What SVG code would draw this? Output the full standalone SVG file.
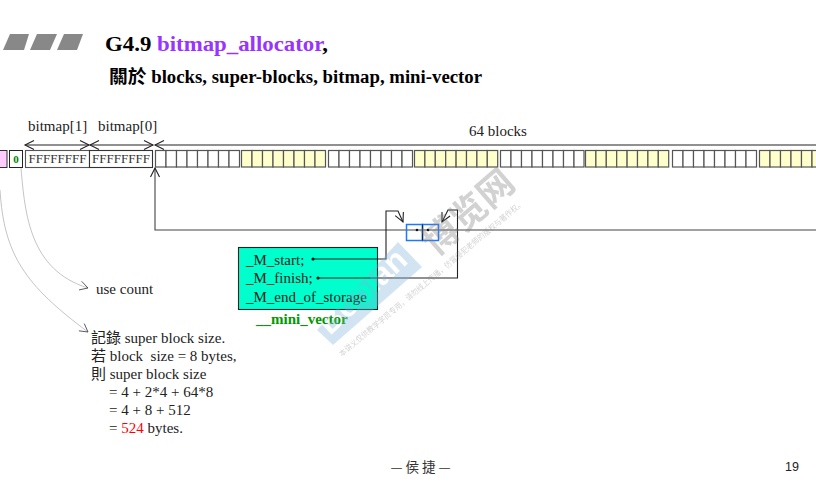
<svg xmlns="http://www.w3.org/2000/svg" width="816" height="493" viewBox="0 0 816 493">
<defs>
<marker id="o" viewBox="-10 -6 12 12" markerWidth="12" markerHeight="12" markerUnits="userSpaceOnUse" refX="0" refY="0" orient="auto-start-reverse"><path d="M-9 -4.500L0 0L-9 4.500" fill="none" stroke="#222" stroke-width="1.100"/></marker>
<marker id="t" viewBox="-10 -6 12 12" markerWidth="12" markerHeight="12" markerUnits="userSpaceOnUse" refX="0" refY="0" orient="auto"><path d="M-8 -4.500L0 0L-8 4.500" fill="none" stroke="#444" stroke-width=".8"/></marker>
<marker id="d" viewBox="-3 -3 6 6" markerWidth="4" markerHeight="4" markerUnits="userSpaceOnUse" refX="0" refY="0"><circle r="2.400" fill="#111"/></marker>
<mask id="cut" maskUnits="userSpaceOnUse" x="0" y="0" width="816" height="493">
<rect width="816" height="493" fill="#fff"/>
<text transform="translate(330 336) rotate(-43)" style="font-size:32px;font-weight:bold;font-family:'Liberation Sans',sans-serif;fill:#000">Boolan</text>
</mask>
</defs>
<style>
text{font-family:"Liberation Serif","Noto Sans CJK TC",serif;fill:#222;font-size:15px}
.w{fill:#fff}.y{fill:#ffffcc}
.b rect{stroke:#555;stroke-width:1.200}
.c{fill:none;stroke:#444;stroke-width:1.100}
.k{fill:none;stroke:#222;stroke-width:1.100}
.g{fill:none;stroke:#aaa;stroke-width:.7}
</style>
<rect width="816" height="493" fill="#fff"/>
<g id="title">
<path fill="#888" d="M3 50L10 34H29L24 50ZM30 50L37 34H57L50 50ZM57 50L64 34H83L77 50Z"/>
<text x="105" y="51" textLength="223" lengthAdjust="spacingAndGlyphs" style="font-size:21px;font-weight:bold;fill:#000">G4.9 <tspan fill="#9933ff">bitmap_allocator</tspan>,</text>
<text x="109" y="83" textLength="373" lengthAdjust="spacingAndGlyphs" style="font-size:18px;font-weight:bold;fill:#000">關於 blocks, super-blocks, bitmap, mini-vector</text>
</g>
<g id="head">
<rect x="-3" y="150.500" width="10" height="17" fill="#ffccff" stroke="#333" stroke-width="1"/>
<rect x="9.500" y="150.500" width="13" height="17" fill="#fff" stroke="#222" stroke-width="1"/>
<text x="16" y="163" text-anchor="middle" style="font-size:11px;font-weight:bold;fill:#008000">0</text>
</g>
<g id="bitmap">
<rect x="25.500" y="150.500" width="64" height="17" fill="#fff" stroke="#555" stroke-width="1.100"/>
<rect x="89.500" y="150.500" width="63" height="17" fill="#fff" stroke="#333" stroke-width="1.100"/>
<text x="57.500" y="163" text-anchor="middle" style="font-size:13px;fill:#333">FFFFFFFF</text>
<text x="121" y="163" text-anchor="middle" style="font-size:13px;fill:#333">FFFFFFFF</text>
<text x="28" y="131">bitmap[1]</text>
<text x="98" y="131">bitmap[0]</text>
<text x="469" y="136">64 blocks</text>
</g>
<g id="blocks" class="b">
<g><rect class="w" x="155.500" y="150.500" width="10.500" height="16.500"/><rect class="w" x="166" y="150.500" width="10.500" height="16.500"/><rect class="w" x="176.500" y="150.500" width="10.500" height="16.500"/><rect class="w" x="187" y="150.500" width="10.500" height="16.500"/><rect class="w" x="197.500" y="150.500" width="10.500" height="16.500"/><rect class="w" x="208" y="150.500" width="10.500" height="16.500"/><rect class="w" x="218.500" y="150.500" width="10.500" height="16.500"/><rect class="w" x="229" y="150.500" width="10.500" height="16.500"/></g>
<g><rect class="y" x="241.500" y="150.500" width="10.500" height="16.500"/><rect class="y" x="252" y="150.500" width="10.500" height="16.500"/><rect class="y" x="262.500" y="150.500" width="10.500" height="16.500"/><rect class="y" x="273" y="150.500" width="10.500" height="16.500"/><rect class="y" x="283.500" y="150.500" width="10.500" height="16.500"/><rect class="y" x="294" y="150.500" width="10.500" height="16.500"/><rect class="y" x="304.500" y="150.500" width="10.500" height="16.500"/><rect class="y" x="315" y="150.500" width="10.500" height="16.500"/></g>
<g><rect class="w" x="328.500" y="150.500" width="10.500" height="16.500"/><rect class="w" x="339" y="150.500" width="10.500" height="16.500"/><rect class="w" x="349.500" y="150.500" width="10.500" height="16.500"/><rect class="w" x="360" y="150.500" width="10.500" height="16.500"/><rect class="w" x="370.500" y="150.500" width="10.500" height="16.500"/><rect class="w" x="381" y="150.500" width="10.500" height="16.500"/><rect class="w" x="391.500" y="150.500" width="10.500" height="16.500"/><rect class="w" x="402" y="150.500" width="10.500" height="16.500"/></g>
<g><rect class="y" x="414.500" y="150.500" width="10.400" height="16.500"/><rect class="y" x="424.900" y="150.500" width="10.400" height="16.500"/><rect class="y" x="435.300" y="150.500" width="10.400" height="16.500"/><rect class="y" x="445.700" y="150.500" width="10.400" height="16.500"/><rect class="y" x="456.100" y="150.500" width="10.400" height="16.500"/><rect class="y" x="466.500" y="150.500" width="10.400" height="16.500"/><rect class="y" x="476.900" y="150.500" width="10.400" height="16.500"/><rect class="y" x="487.300" y="150.500" width="10.400" height="16.500"/></g>
<g><rect class="w" x="500.500" y="150.500" width="10.500" height="16.500"/><rect class="w" x="511" y="150.500" width="10.500" height="16.500"/><rect class="w" x="521.500" y="150.500" width="10.500" height="16.500"/><rect class="w" x="532" y="150.500" width="10.500" height="16.500"/><rect class="w" x="542.500" y="150.500" width="10.500" height="16.500"/><rect class="w" x="553" y="150.500" width="10.500" height="16.500"/><rect class="w" x="563.500" y="150.500" width="10.500" height="16.500"/><rect class="w" x="574" y="150.500" width="10" height="16.500"/></g>
<g><rect class="y" x="585.500" y="150.500" width="10.400" height="16.500"/><rect class="y" x="595.900" y="150.500" width="10.400" height="16.500"/><rect class="y" x="606.300" y="150.500" width="10.400" height="16.500"/><rect class="y" x="616.700" y="150.500" width="10.400" height="16.500"/><rect class="y" x="627.100" y="150.500" width="10.400" height="16.500"/><rect class="y" x="637.500" y="150.500" width="10.400" height="16.500"/><rect class="y" x="647.900" y="150.500" width="10.400" height="16.500"/><rect class="y" x="658.300" y="150.500" width="10.400" height="16.500"/></g>
<g><rect class="w" x="672.500" y="150.500" width="10.500" height="16.500"/><rect class="w" x="683" y="150.500" width="10.500" height="16.500"/><rect class="w" x="693.500" y="150.500" width="10.500" height="16.500"/><rect class="w" x="704" y="150.500" width="10.500" height="16.500"/><rect class="w" x="714.500" y="150.500" width="10.500" height="16.500"/><rect class="w" x="725" y="150.500" width="10.500" height="16.500"/><rect class="w" x="735.500" y="150.500" width="10.500" height="16.500"/><rect class="w" x="746" y="150.500" width="10.500" height="16.500"/></g>
<g><rect class="y" x="759.500" y="150.500" width="10.500" height="16.500"/><rect class="y" x="770" y="150.500" width="10.500" height="16.500"/><rect class="y" x="780.500" y="150.500" width="10.500" height="16.500"/><rect class="y" x="791" y="150.500" width="10.500" height="16.500"/><rect class="y" x="801.500" y="150.500" width="10.500" height="16.500"/><rect class="y" x="812" y="150.500" width="10.500" height="16.500"/></g>
</g>
<g id="mini_vector">
<rect x="238.500" y="247.500" width="139" height="62" fill="#00ffcc" stroke="#222" stroke-width="1.100"/>
<text x="246" y="265">_M_start;</text>
<text x="246" y="283">_M_finish;</text>
<text x="246" y="302">_M_end_of_storage</text>
<text x="256" y="324" style="font-weight:bold;fill:#009900">__mini_vector</text>
</g>
<g id="connectors">
<path class="k" d="M25 145H89" marker-start="url(#o)" marker-end="url(#o)"/>
<path class="k" d="M90 145H153" marker-start="url(#o)" marker-end="url(#o)"/>
<path class="k" d="M155 145H816" marker-start="url(#o)"/>
<path class="c" d="M816 230H155V168" marker-end="url(#o)"/>
<path class="k" d="M313 259H386V211H398L403 222" marker-start="url(#d)" marker-end="url(#o)"/>
<path class="k" d="M318 278H457.500V210H448L442 222" marker-start="url(#d)" marker-end="url(#o)"/>
<path class="g" d="M21 168C25 215 30 270 88 288" marker-end="url(#t)"/>
<path class="g" d="M0 190C4 255 25 285 88 332" marker-end="url(#t)"/>
</g>
<g id="pointer">
<rect x="406.500" y="224.500" width="16" height="16" fill="none" stroke="#1e78ff" stroke-width="1.500"/>
<rect x="422.500" y="224.500" width="16" height="16" fill="none" stroke="#1e78ff" stroke-width="1.500"/>
<path d="M422.500 224.500V240.500" stroke="#222" stroke-width="1"/>
<circle cx="417" cy="230" r="1.300" fill="#111"/><circle cx="428" cy="230" r="1.300" fill="#111"/>
</g>
<g id="notes">
<text x="96" y="294">use count</text>
<text x="91" y="343">記錄 super block size.</text>
<text x="91" y="361" xml:space="preserve">若 block  size = 8 bytes,</text>
<text x="91" y="379">則 super block size</text>
<text x="109" y="397">= 4 + 2*4 + 64*8</text>
<text x="109" y="415">= 4 + 8 + 512</text>
<text x="109" y="433">= <tspan fill="#ff0000">524</tspan> bytes.</text>
</g>
<g id="watermark">
<path d="M317 330L398 242L422 267L333 345Z" fill="#7fb5d8" opacity=".35" mask="url(#cut)"/>
<text transform="translate(436 257) rotate(-41)" style="font-size:36px;font-weight:bold;font-family:'Noto Sans CJK SC',sans-serif;fill:#808080;opacity:.35">博览网</text>
<text transform="translate(342 357) rotate(-40)" textLength="238" lengthAdjust="spacingAndGlyphs" style="font-size:8px;font-family:'Noto Sans CJK SC',sans-serif;fill:#808080;opacity:.35">本讲义仅供教学学员专用，请勿线上传播，仿冒侵犯老师的版权与著作权。</text>
</g>
<g id="footer">
<text x="420.500" y="472" text-anchor="middle" style="font-size:13.500px;font-family:'Noto Sans CJK TC',sans-serif;fill:#333">— 侯 捷 —</text>
<text x="785" y="471" style="font-size:12.500px;font-family:'Liberation Sans',sans-serif;fill:#222">19</text>
</g>
</svg>
